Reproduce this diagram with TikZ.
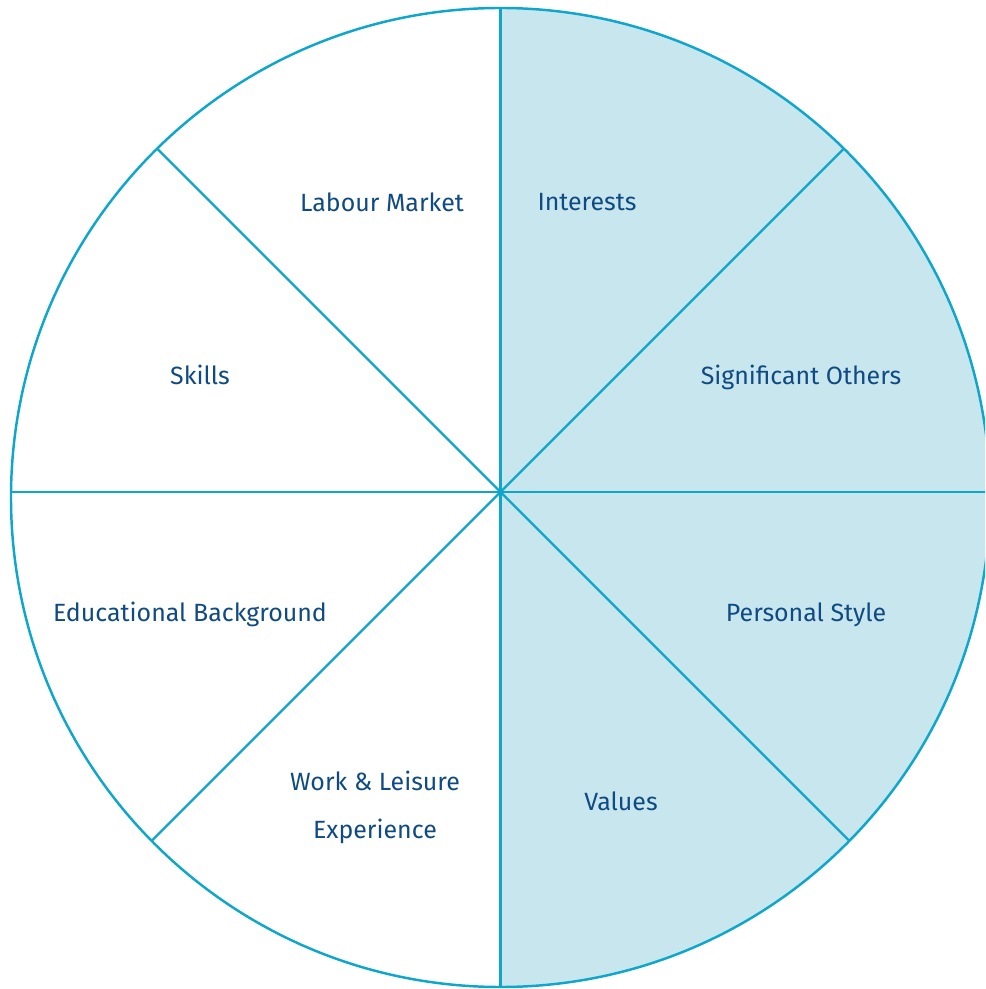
\documentclass[tikz,border=0pt]{standalone}
\usepackage{fontspec}
\setmainfont{Fira Sans}
\definecolor{wheelline}{HTML}{0FA6CC}
\definecolor{wheelfill}{HTML}{C8E6EE}
\definecolor{wheeltext}{HTML}{0F4A82}
\begin{document}
\begin{tikzpicture}[x=0.02cm,y=0.02cm,
    spoke/.style={wheelline,line width=1.4pt},
    sector/.style={text=wheeltext,font=\fontsize{14.2}{27.5}\selectfont,align=center}]
    \useasboundingbox (-500.5,-497) rectangle (484.5,492) ;
    \coordinate (O) at (0,0) ;
    \coordinate (C) at (0,-5.5) ;
    \begin{scope}
      \clip (-500.5,-497) rectangle (484.5,492) ;
      \begin{scope}
        \clip (C) circle (489.5) ;
        \fill [wheelfill] (0,-600) rectangle (600,600) ;
        \foreach \a in {0,45,...,315} {
          \coordinate (rim\a) at (\a:600) ;
          \draw [spoke] (O) -- (rim\a) ;
        }
      \end{scope}
      \draw [spoke] (C) circle (489.5) ;
    \end{scope}
    \node [sector] (labour) at (-118.5,290) {Labour Market} ;
    \node [sector] (interests) at (86.5,289.5) {Interests} ;
    \node [sector] (skills) at (-300.5,117) {Skills} ;
    \node [sector] (others) at (300.5,115) {Significant Others} ;
    \node [sector] (education) at (-310.5,-122) {Educational Background} ;
    \node [sector] (style) at (305.5,-122.5) {Personal Style} ;
    \node [sector] (work) at (-125.5,-315.5) {Work \& Leisure\\Experience} ;
    \node [sector] (values) at (120.5,-309) {Values} ;
  \end{tikzpicture}
\end{document}
